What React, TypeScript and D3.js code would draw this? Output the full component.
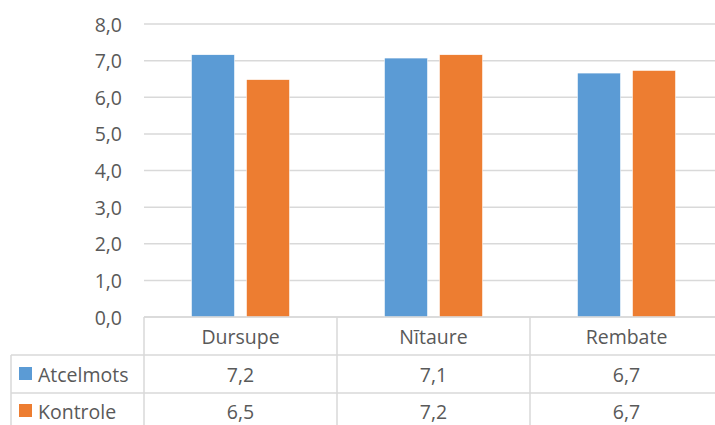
import React from 'react';
import * as d3 from 'd3';

const categories = ['Dursupe', 'Nītaure', 'Rembate'];
const seriesNames = ['Atcelmots', 'Kontrole'];
const atcelmots = [7.16, 7.07, 6.66];
const kontrole = [6.48, 7.16, 6.73];
const yTicks = [0, 1, 2, 3, 4, 5, 6, 7, 8];

const COLORS = ['#5b9bd5', '#ed7d31'];
const WIDTH = 715;
const HEIGHT = 425;
const PLOT = { left: 144, right: 723, top: 24, bottom: 317 };
const ROWS = [317, 355, 393, 431];
const TABLE_LEFT = 11;
const FONT = '"Open Sans", sans-serif';
const FS = 19.5;
const TEXT = '#595959';
const GRID = '#d9d9d9';

const fmt = (v: number) => v.toFixed(1).replace('.', ',');

export default function App() {
  const series = [atcelmots, kontrole];

  const xScale = d3.scaleBand().domain(categories).range([PLOT.left, PLOT.right]);
  const inner = d3
    .scaleBand()
    .domain(seriesNames)
    .range([0, xScale.bandwidth()])
    .paddingInner(0.22)
    .paddingOuter(0.864);
  const yScale = d3.scaleLinear().domain([0, 8]).range([PLOT.bottom, PLOT.top]);

  const grid = yTicks.map((t) => (
    <g key={t}>
      <line x1={PLOT.left} x2={WIDTH} y1={yScale(t)} y2={yScale(t)} stroke={GRID} strokeWidth={1.5} />
      <text x={122} y={yScale(t)} textAnchor="end" dominantBaseline="central" fontSize={FS} fill={TEXT}>
        {fmt(t)}
      </text>
    </g>
  ));

  const bars = categories.map((c) =>
    series.map((s, i) => {
      const x0 = (xScale(c) ?? 0) + (inner(seriesNames[i]) ?? 0);
      return (
        <rect
          key={c + i}
          x={x0}
          y={yScale(s[categories.indexOf(c)])}
          width={inner.bandwidth()}
          height={yScale(0) - yScale(s[categories.indexOf(c)])}
          fill={COLORS[i]}
          stroke="#ffffff"
          strokeWidth={0.5}
        />
      );
    })
  );

  const table = (
    <g>
      {/* horizontal lines */}
      <line x1={PLOT.left} x2={WIDTH} y1={ROWS[0]} y2={ROWS[0]} stroke={GRID} strokeWidth={1.5} />
      <line x1={TABLE_LEFT} x2={WIDTH} y1={ROWS[1]} y2={ROWS[1]} stroke={GRID} strokeWidth={1.5} />
      <line x1={TABLE_LEFT} x2={WIDTH} y1={ROWS[2]} y2={ROWS[2]} stroke={GRID} strokeWidth={1.5} />
      {/* vertical lines */}
      <line x1={TABLE_LEFT} x2={TABLE_LEFT} y1={ROWS[1]} y2={HEIGHT} stroke={GRID} strokeWidth={1.5} />
      {categories.map((c) => (
        <line
          key={c}
          x1={xScale(c)}
          x2={xScale(c)}
          y1={ROWS[0]}
          y2={HEIGHT}
          stroke={GRID}
          strokeWidth={1.5}
        />
      ))}
      {categories.map((c) => (
        <text
          key={c}
          x={(xScale(c) ?? 0) + xScale.bandwidth() / 2}
          y={(ROWS[0] + ROWS[1]) / 2}
          textAnchor="middle"
          dominantBaseline="central"
          fontSize={FS}
          fill={TEXT}
        >
          {c}
        </text>
      ))}
      {series.map((s, i) => {
        const cy = (ROWS[i + 1] + ROWS[i + 2]) / 2 - (i === 1 ? 1 : 0);
        return (
          <g key={seriesNames[i]}>
            <rect x={19} y={cy - 7} width={13} height={13} fill={COLORS[i]} />
            <text x={38} y={cy} dominantBaseline="central" fontSize={FS} fill={TEXT}>
              {seriesNames[i]}
            </text>
            {categories.map((c, j) => (
              <text
                key={c}
                x={(xScale(c) ?? 0) + xScale.bandwidth() / 2}
                y={cy}
                textAnchor="middle"
                dominantBaseline="central"
                fontSize={FS}
                fill={TEXT}
              >
                {fmt(s[j])}
              </text>
            ))}
          </g>
        );
      })}
    </g>
  );

  return (
    <div style={{ position: 'absolute', left: 0, top: 0 }}>
      <svg width={WIDTH} height={HEIGHT} style={{ display: 'block', fontFamily: FONT }}>
        <rect width={WIDTH} height={HEIGHT} fill="#ffffff" />
        {grid}
        {bars}
        {table}
      </svg>
    </div>
  );
}
